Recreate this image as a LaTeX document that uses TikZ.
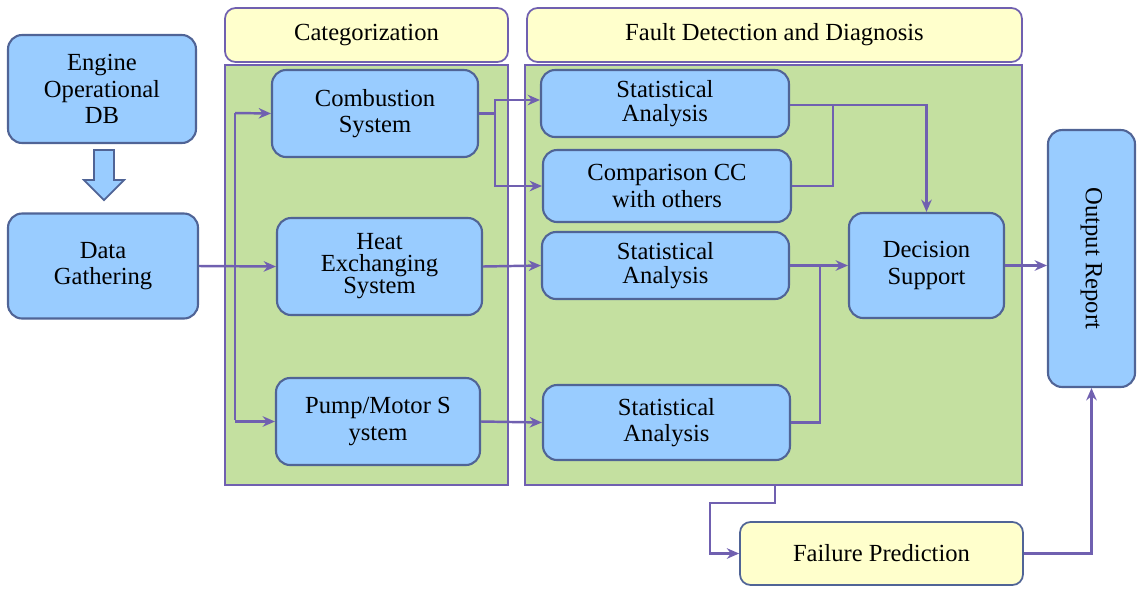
\documentclass[tikz,border=0pt]{standalone}
\usepackage{fontspec}
\setmainfont{Liberation Serif}
\usepackage{tikz}
\usetikzlibrary{arrows.meta,positioning}
\definecolor{myblue}{RGB}{153,204,255}
\definecolor{myedge}{RGB}{80,100,150}
\definecolor{mygreen}{RGB}{196,224,160}
\definecolor{myyellow}{RGB}{255,255,204}
\definecolor{mypurple}{RGB}{112,96,176}
\tikzset{
  block/.style={draw=myedge,fill=myblue,rounded corners=8pt,line width=1.2pt,align=center,inner sep=1pt,font=\fontsize{14}{15}\selectfont},
  header/.style={draw=mypurple,fill=myyellow,rounded corners=6pt,line width=1pt,align=center,font=\fontsize{14}{15}\selectfont},
  panel/.style={draw=mypurple,fill=mygreen,line width=1pt},
  link/.style={draw=mypurple,line width=1.4pt,-{Stealth[length=7pt,width=6pt]}},
  plain/.style={draw=mypurple,line width=1.4pt}
}
\begin{document}
\begin{tikzpicture}[x=0.02cm,y=-0.02cm]
\useasboundingbox (0,0) rectangle (1144,593);
% panels
\node[panel,minimum width=5.66cm,minimum height=8.4cm] (catp) at (366.5,275) {};
\node[panel,minimum width=9.94cm,minimum height=8.4cm] (fddp) at (773.5,275) {};
\node[header,minimum width=5.66cm,minimum height=1.08cm] (cath) at (366.5,35) {Categorization};
\node[header,minimum width=9.9cm,minimum height=1.08cm] (fddh) at (774.5,35) {Fault Detection and Diagnosis};
% blocks
\node[block,minimum width=3.76cm,minimum height=2.16cm] (engine) at (102,89) {Engine\\Operational\\DB};
\node[block,minimum width=3.8cm,minimum height=2.1cm] (data) at (103,266) {Data\\Gathering};
\node[block,minimum width=4.12cm,minimum height=1.74cm] (comb) at (375,113.5) {Combustion\\System};
\node[block,minimum width=4.1cm,minimum height=1.94cm,font=\fontsize{14}{12.5}\selectfont] (heat) at (379.5,266.5) {Heat\\Exchanging\\System};
\node[block,minimum width=4.08cm,minimum height=1.74cm] (pump) at (378,421.5) {Pump/Motor S\\ystem};
\node[block,minimum width=4.96cm,minimum height=1.34cm,font=\fontsize{14}{13.5}\selectfont] (stat1) at (665,103.5) {Statistical\\Analysis};
\node[block,minimum width=4.96cm,minimum height=1.44cm] (comp) at (667,186) {Comparison CC\\with others};
\node[block,minimum width=4.94cm,minimum height=1.34cm,font=\fontsize{14}{13.5}\selectfont] (stat2) at (665.5,265.5) {Statistical\\Analysis};
\node[block,minimum width=4.94cm,minimum height=1.5cm] (stat3) at (666.5,422.5) {Statistical\\Analysis};
\node[block,minimum width=3.1cm,minimum height=2.1cm] (dec) at (926.5,265.5) {Decision\\Support};
\node[block,minimum width=1.74cm,minimum height=5.14cm] (out) at (1091.5,258.5) {\rotatebox{-90}{Output Report}};
\node[header,draw=myedge,minimum width=5.66cm,minimum height=1.26cm] (fail) at (881.5,553.5) {Failure Prediction};
% hollow arrow
\draw[draw=myedge,fill=myblue,line width=1pt] (94,150) -- (114,150) -- (114,180) -- (124,180) -- (104,200) -- (84,180) -- (94,180) -- cycle;
% connectors
\draw[link] (data.east) -- (heat.west);
\draw[plain] (235,113) -- (235,420);
\draw[link] (235,113) -- (comb.west);
\draw[link] (235,421.5) -- (pump.west);
\draw[link] (comb.east) -| (495,100) -- (stat1.west |- 0,100);
\draw[link] (495,113) |- (comp.west);
\draw[link] (heat.east) -- (stat2.west);
\draw[link] (pump.east) -- (stat3.west);
\draw[link] (stat1.east |- 0,105) -| (dec.north);
\draw[plain] (comp.east) -| (833,105);
\draw[link] (stat2.east) -- (dec.west);
\draw[plain] (stat3.east) -| (820,265.5);
\draw[link] (dec.east) -- (out.west |- dec.east);
\draw[link] (fddp.south -| 775,0) -- (775,503) -| (710,553.5) -- (fail.west);
\draw[link] (fail.east) -| (out.south);
\end{tikzpicture}
\end{document}
